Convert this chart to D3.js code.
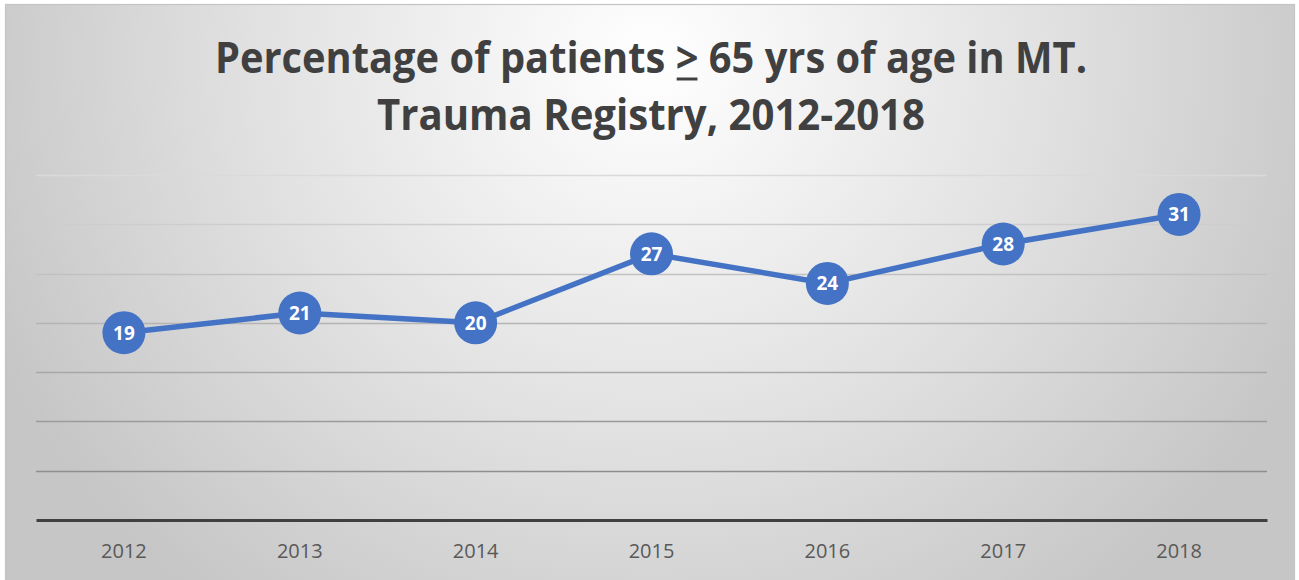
<!DOCTYPE html>
<html>
<head>
<meta charset="utf-8">
<script src="https://cdn.jsdelivr.net/npm/d3@7"></script>
<style>
  html, body { margin: 0; padding: 0; background: #fff; }
  svg { display: block; }
</style>
</head>
<body>
<div id="chart"></div>
<script>
// Chart data.
const years = ["2012", "2013", "2014", "2015", "2016", "2017", "2018"];
const percentages = [19, 21, 20, 27, 24, 28, 31];
const gridTicks = [0, 5, 10, 15, 20, 25, 30, 35];
const titleLines = ["Percentage of patients > 65 yrs of age in MT.", "Trauma Registry, 2012-2018"];

const W = 1299, H = 580;
const plot = {left: 36, right: 1267, top: 175, bottom: 520};

const svg = d3.select("#chart")
  .append("svg")
    .attr("width", W)
    .attr("height", H);

// Background: soft radial gradient, white near the title.
const defs = svg.append("defs");
const grad = defs.append("radialGradient")
    .attr("id", "bg")
    .attr("gradientUnits", "userSpaceOnUse")
    .attr("cx", 650).attr("cy", 60).attr("r", 720)
    .attr("gradientTransform", "translate(650,60) scale(1,0.95) translate(-650,-60)");
grad.append("stop").attr("offset", "0%").attr("stop-color", "#ffffff");
grad.append("stop").attr("offset", "55%").attr("stop-color", "#e1e1e1");
grad.append("stop").attr("offset", "100%").attr("stop-color", "#c6c6c6");

svg.append("rect")
    .attr("x", 5.5).attr("y", 4.5)
    .attr("width", 1289).attr("height", H)
    .attr("fill", "url(#bg)")
    .attr("stroke", "#c4c4c4")
    .attr("stroke-width", 1.2);

// Scales.
const x = d3.scaleBand()
    .domain(years)
    .range([plot.left, plot.right]);

const y = d3.scaleLinear()
    .domain([0, 35])
    .range([plot.bottom, plot.top]);

// Gridlines (darker toward the bottom, like the original).
const gridColor = d3.scaleLinear()
    .domain([5, 35])
    .range(["#8e8e8e", "#dadada"]);

svg.append("g")
  .selectAll("line")
  .data(gridTicks.filter(d => d > 0))
  .join("line")
    .attr("x1", plot.left).attr("x2", plot.right)
    .attr("y1", d => Math.round(y(d)) + 0.5)
    .attr("y2", d => Math.round(y(d)) + 0.5)
    .attr("stroke", d => gridColor(d))
    .attr("stroke-width", 1.6);

// x axis: thick dark baseline with year labels.
const xAxis = d3.axisBottom(x).tickSize(0).tickPadding(24);
const gx = svg.append("g")
    .attr("transform", `translate(0,${y(0)})`)
    .call(xAxis);
gx.select(".domain")
    .attr("stroke", "#404040")
    .attr("stroke-width", 3.2);
gx.selectAll("text")
    .attr("fill", "#595959")
    .attr("font-family", "'Open Sans', 'Noto Sans', sans-serif")
    .attr("font-size", 20);

// Line.
const line = d3.line()
    .x((d, i) => x(years[i]) + x.bandwidth() / 2)
    .y(d => y(d));

svg.append("path")
    .datum(percentages)
    .attr("fill", "none")
    .attr("stroke", "#4472c4")
    .attr("stroke-width", 5.5)
    .attr("stroke-linejoin", "round")
    .attr("d", line);

// Markers with value labels.
const pts = svg.append("g")
  .selectAll("g")
  .data(percentages)
  .join("g")
    .attr("transform", (d, i) => `translate(${x(years[i]) + x.bandwidth() / 2},${y(d)})`);

pts.append("circle")
    .attr("r", 21.5)
    .attr("fill", "#4472c4");

pts.append("text")
    .attr("text-anchor", "middle")
    .attr("dy", "0.36em")
    .attr("fill", "#ffffff")
    .attr("font-family", "'Open Sans', 'Noto Sans', sans-serif")
    .attr("font-weight", "bold")
    .attr("font-size", 19)
    .text(d => d);

// Title (two lines, Calibri-like bold; squeezed to the original widths).
const title = svg.append("g")
    .attr("font-family", "'Open Sans', 'Noto Sans', sans-serif")
    .attr("font-weight", "bold")
    .attr("font-size", 43)
    .attr("fill", "#404040")
    .attr("text-anchor", "middle");

const t1 = title.append("text")
    .attr("x", 651).attr("y", 73)
    .attr("textLength", 872)
    .attr("lengthAdjust", "spacingAndGlyphs")
    .text(titleLines[0]);

// The ">" is underlined in the original (a stand-in for "≥").
const gtIndex = titleLines[0].indexOf(">");
const gtBox = t1.node().getExtentOfChar(gtIndex);
title.append("line")
    .attr("x1", gtBox.x + 1).attr("x2", gtBox.x + gtBox.width - 1)
    .attr("y1", 79).attr("y2", 79)
    .attr("stroke", "#404040")
    .attr("stroke-width", 3);

title.append("text")
    .attr("x", 651).attr("y", 130)
    .attr("textLength", 548)
    .attr("lengthAdjust", "spacingAndGlyphs")
    .text(titleLines[1]);
</script>
</body>
</html>
